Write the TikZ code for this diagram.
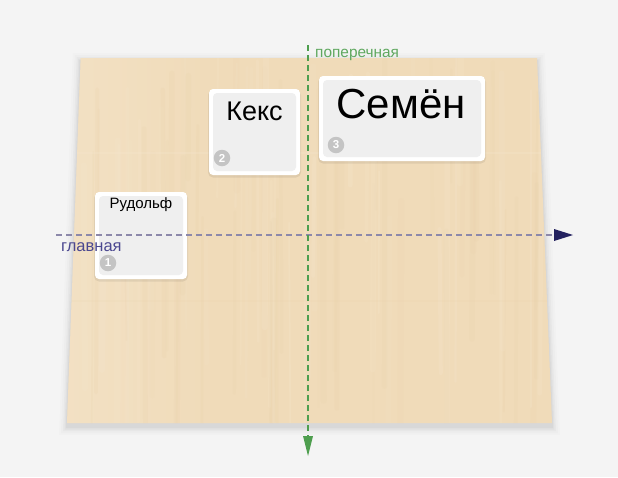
\documentclass[tikz,border=0pt]{standalone}
\usepackage{fontspec}
\setmainfont{Liberation Sans}
\usetikzlibrary{arrows.meta,calc}

\definecolor{paper}{HTML}{F4F4F4}
\definecolor{wood}{HTML}{F0DBB9}
\definecolor{woodlight}{HTML}{F6E7CF}
\definecolor{wooddark}{HTML}{E8D0A8}
\definecolor{cardgray}{HTML}{EFEFEF}
\definecolor{badgegray}{HTML}{C4C4C4}
\definecolor{mainline}{HTML}{8C88AA}
\definecolor{mainhead}{HTML}{23215F}
\definecolor{maintext}{HTML}{4B4890}
\definecolor{crossline}{HTML}{4E9E4E}
\definecolor{crosstext}{HTML}{5FA85F}

\tikzset{
  card/.style={draw=none, fill=white, rounded corners=4pt, inner sep=0pt,
    path picture={\fill[cardgray]
      ([shift={(4pt,4pt)}]path picture bounding box.south west) rectangle
      ([shift={(-4pt,-4pt)}]path picture bounding box.north east);}},
  cardshadow/.style={fill=black, fill opacity=0.07, rounded corners=5pt},
  cardtitle/.style={text=black, inner sep=0pt, anchor=center},
  badge/.style={circle, fill=badgegray, text=white, inner sep=0pt,
    minimum size=16.5pt, font=\bfseries\fontsize{11.5}{11.5}\selectfont},
  axislabel/.style={inner sep=0pt, anchor=base west},
}

\begin{document}
\begin{tikzpicture}[x=1pt,y=-1pt]
  % page
  \fill[paper] (0,0) rectangle (618,477);
  \useasboundingbox (0,0) rectangle (618,477);

  % soft shadow under the board
  \foreach \s/\o in {8/0.012,6/0.016,4/0.022,2.5/0.028,1.2/0.035}{
    \fill[black, opacity=\o]
      (80.7-\s,61-\s) -- (537+\s,61-\s) -- (552+\s,427+\s) -- (67-\s,427+\s) -- cycle;
  }

  % the board (slight perspective)
  \coordinate (tl) at (80.7,58);
  \coordinate (tr) at (537,58);
  \coordinate (br) at (552,423);
  \coordinate (bl) at (67,423);
  \fill[wood] (tl) -- (tr) -- (br) -- (bl) -- cycle;
  \begin{scope}
    \clip (tl) -- (tr) -- (br) -- (bl) -- cycle;
    \shade[left color=woodlight, right color=wood, opacity=0.5]
      (60,50) rectangle (220,430);
    % grain
    \pgfmathsetseed{7}
    \foreach \i in {1,...,90}{
      \pgfmathsetmacro{\gx}{65+rnd*490}
      \pgfmathsetmacro{\gw}{1.5+rnd*5}
      \pgfmathsetmacro{\gy}{40+rnd*200}
      \pgfmathsetmacro{\gl}{100+rnd*260}
      \pgfmathsetmacro{\go}{0.10+rnd*0.18}
      \pgfmathsetmacro{\gd}{rnd*4-2}
      \pgfmathtruncatemacro{\gc}{rnd*2}
      \ifnum\gc=0
        \draw[line width=\gw pt, woodlight, opacity=\go, line cap=round] (\gx,\gy) -- (\gx+\gd,\gy+\gl);
      \else
        \draw[line width=\gw pt, wooddark, opacity=\go*0.7, line cap=round] (\gx,\gy) -- (\gx+\gd,\gy+\gl);
      \fi
    }
    \fill[wooddark, opacity=0.12] (60,300) rectangle (560,302);
    \fill[woodlight, opacity=0.25] (60,152) rectangle (560,154);
  \end{scope}

  % cards
  \foreach \cx/\cy/\w/\h in {141/235.5/92/87, 254.5/132/91/86, 402/118.5/166/85}{
    \fill[cardshadow] (\cx-\w/2-1,\cy-\h/2+1) rectangle (\cx+\w/2+1,\cy+\h/2+2.5);
  }
  \node[card, minimum width=92pt, minimum height=87pt] (rud) at (141,235.5) {};
  \node[card, minimum width=91pt, minimum height=86pt] (keks) at (254.5,132) {};
  \node[card, minimum width=166pt, minimum height=85pt] (sem) at (402,118.5) {};

  \node[cardtitle, font=\fontsize{15}{15}\selectfont] (rudname) at (141,204.5) {Рудольф};
  \node[cardtitle, font=\fontsize{27}{27}\selectfont] (keksname) at (254.5,111) {Кекс};
  \node[cardtitle, font=\fontsize{42}{42}\selectfont] (semname) at (401,104) {Семён};

  \node[badge] (b1) at (108,263) {1};
  \node[badge] (b2) at (222,158) {2};
  \node[badge] (b3) at (336,145) {3};

  % main axis
  \coordinate (mainstart) at (56,235);
  \coordinate (mainend) at (554,235);
  \coordinate (maintip) at (573,235);
  \draw[mainline, line width=1.6pt, dash pattern=on 6pt off 4pt] (mainstart) -- (mainend);
  \fill[mainhead] (maintip) -- (554,229) -- (554,241) -- cycle;
  \node[axislabel, text=maintext, font=\fontsize{16.5}{16.5}\selectfont] (mainlabel) at (61,251) {главная};

  % transverse axis
  \coordinate (crossstart) at (308,45);
  \coordinate (crossend) at (308,436);
  \coordinate (crosstip) at (308,456);
  \draw[crossline, line width=1.6pt, dash pattern=on 6pt off 4pt] (crossstart) -- (crossend);
  \fill[crossline] (crosstip) -- (303,436) -- (313,436) -- cycle;
  \node[axislabel, text=crosstext, font=\fontsize{15.4}{15.4}\selectfont] (crosslabel) at (315,57) {поперечная};
\end{tikzpicture}
\end{document}
